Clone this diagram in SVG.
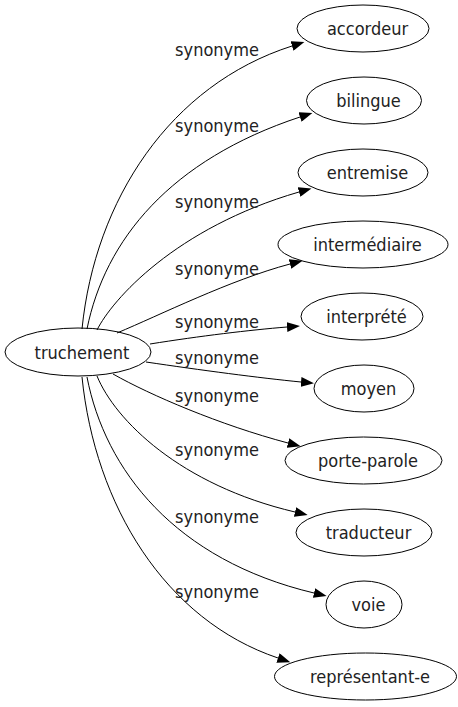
<svg xmlns="http://www.w3.org/2000/svg" width="458" height="707" viewBox="0 0 458 707">
<style>
.node ellipse{fill:none;stroke:#000;stroke-width:1}
.node text,.lbl{font-family:"DejaVu Sans Condensed","DejaVu Sans",sans-serif;font-stretch:condensed;font-size:18px;fill:#222}
.node text{text-anchor:middle}
.lbl{text-anchor:middle}
.edge{fill:none;stroke:#000;stroke-width:1;marker-end:url(#arr)}
</style>
<defs>
<marker id="arr" viewBox="0 0 13 10" markerUnits="userSpaceOnUse" markerWidth="13" markerHeight="10" refX="0" refY="5" orient="auto">
<path d="M0,0 L13,5 L0,10 z" fill="#000"/>
</marker>
</defs>
<rect width="458" height="707" fill="#fff"/>
<g id="connectors">
<path class="edge" d="M82,329 C95,200 170,85 292,46"/>
<path class="edge" d="M87,329 C105,240 170,160 300,117"/>
<path class="edge" d="M97,330 C112,300 175,228 299,192"/>
<path class="edge" d="M117,333 C160,315 230,280 290,264"/>
<path class="edge" d="M150,344 C200,336 250,330 287,327"/>
<path class="edge" d="M146,362 C200,370 260,378 301,382"/>
<path class="edge" d="M113,374 C150,395 220,425 288,443"/>
<path class="edge" d="M97,376 C115,420 180,485 295,512"/>
<path class="edge" d="M87,377 C105,470 175,560 314,593"/>
<path class="edge" d="M82,377 C95,505 165,620 278,658"/>
</g>
<g id="labels">
<text class="lbl" x="217" y="56">synonyme</text>
<text class="lbl" x="217" y="132">synonyme</text>
<text class="lbl" x="217" y="208">synonyme</text>
<text class="lbl" x="217" y="275">synonyme</text>
<text class="lbl" x="217" y="328">synonyme</text>
<text class="lbl" x="217" y="364">synonyme</text>
<text class="lbl" x="217" y="402">synonyme</text>
<text class="lbl" x="217" y="456">synonyme</text>
<text class="lbl" x="217" y="523">synonyme</text>
<text class="lbl" x="217" y="598">synonyme</text>
</g>
<g id="truchement" class="node"><ellipse cx="78" cy="352" rx="73" ry="24"/><text x="82" y="358.5">truchement</text></g>
<g id="accordeur" class="node"><ellipse cx="363" cy="28.5" rx="66" ry="23.5"/><text x="367.5" y="34.5">accordeur</text></g>
<g id="bilingue" class="node"><ellipse cx="364" cy="100.5" rx="57.5" ry="23.5"/><text x="368.5" y="106.5">bilingue</text></g>
<g id="entremise" class="node"><ellipse cx="363" cy="172.5" rx="65" ry="23.5"/><text x="367.5" y="178.5">entremise</text></g>
<g id="intermediaire" class="node"><ellipse cx="363" cy="244.5" rx="85" ry="23.5"/><text x="367.5" y="250.5">intermédiaire</text></g>
<g id="interprete" class="node"><ellipse cx="362" cy="316.5" rx="61" ry="23.5"/><text x="366.5" y="322.5">interprété</text></g>
<g id="moyen" class="node"><ellipse cx="364" cy="388.5" rx="50" ry="23.5"/><text x="368.5" y="394.5">moyen</text></g>
<g id="porte-parole" class="node"><ellipse cx="363.5" cy="460.5" rx="78.5" ry="23.5"/><text x="368" y="466.5">porte-parole</text></g>
<g id="traducteur" class="node"><ellipse cx="364" cy="532.5" rx="68" ry="23.5"/><text x="368.5" y="538.5">traducteur</text></g>
<g id="voie" class="node"><ellipse cx="364" cy="604.5" rx="38" ry="23.5"/><text x="368.5" y="610.5">voie</text></g>
<g id="representant-e" class="node"><ellipse cx="365.5" cy="676.5" rx="91" ry="23.5"/><text x="370" y="682.5">représentant-e</text></g>
</svg>
